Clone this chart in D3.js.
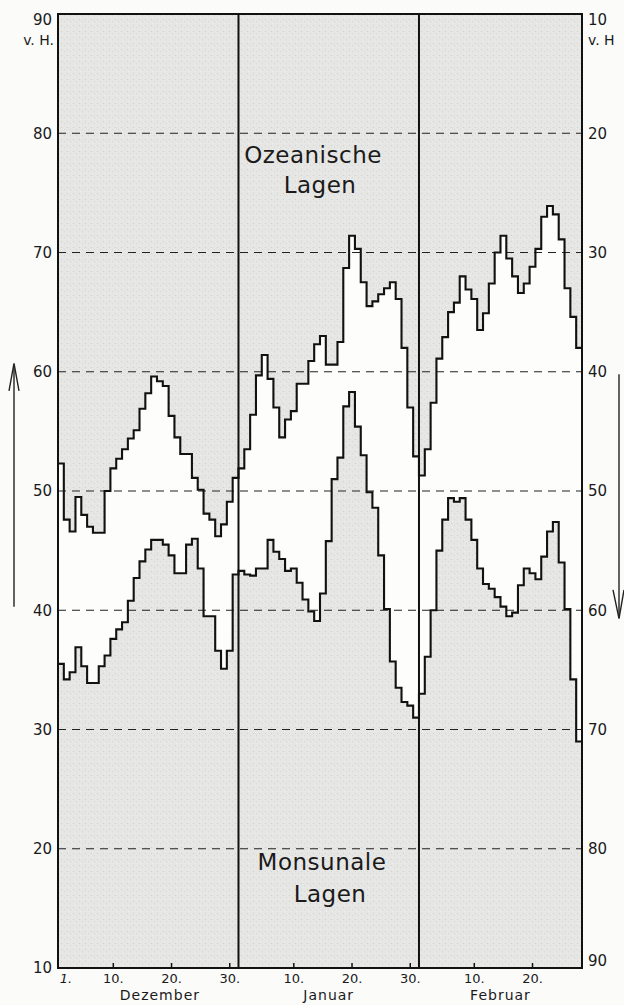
<!DOCTYPE html>
<html>
<head>
<meta charset="utf-8">
<script src="https://cdn.jsdelivr.net/npm/d3@7"></script>
<style>
  html, body { margin: 0; padding: 0; background: #fbfbfa; }
  svg { display: block; }
  text { font-family: "DejaVu Sans", "Liberation Sans", sans-serif; fill: #1a1a1a; }
</style>
</head>
<body>
<div id="chart"></div>
<script>
// ---- data (per-day values, v. H.) ----
const months = ["Dezember", "Januar", "Februar"];
const monthDays = [31, 31, 28];

// Ozeanische Lagen (upper curve, left scale)
const oceanicDec = [52.3, 47.6, 46.6, 49.5, 48.0, 47.0, 46.5, 46.5, 50.0, 51.9,
                    52.7, 53.5, 54.4, 55.1, 56.9, 58.2, 59.6, 59.2, 58.8, 56.3,
                    54.5, 53.1, 53.1, 51.1, 50.1, 48.1, 47.6, 46.2, 47.2, 49.1, 51.1];
const oceanicJan = [51.9, 53.5, 56.4, 59.7, 61.4, 59.4, 57.0, 54.5, 56.0, 56.7,
                    59.0, 59.0, 60.9, 62.3, 63.0, 60.6, 60.6, 62.5, 68.7, 71.4,
                    70.3, 67.5, 65.5, 65.9, 66.5, 67.0, 67.5, 66.1, 62.0, 57.0, 52.9];
const oceanicFeb = [51.3, 53.5, 57.4, 61.1, 62.9, 65.0, 65.8, 68.0, 66.9, 66.1,
                    63.5, 64.9, 67.4, 70.0, 71.4, 69.5, 68.0, 66.6, 67.4, 68.8,
                    70.3, 73.0, 73.9, 73.2, 71.1, 67.0, 64.6, 62.0];

// Monsunale Lagen (lower curve, left scale)
const monsoonDec = [35.5, 34.2, 34.8, 36.9, 35.3, 33.9, 33.9, 35.3, 36.2, 37.6,
                    38.4, 39.0, 40.8, 42.7, 44.1, 45.1, 45.9, 45.9, 45.5, 44.6,
                    43.1, 43.1, 45.5, 46.0, 43.5, 39.5, 39.5, 36.6, 35.1, 36.6, 43.0];
const monsoonJan = [43.3, 43.0, 42.9, 43.5, 43.5, 45.9, 44.9, 44.3, 43.3, 43.5,
                    42.3, 40.9, 39.9, 39.1, 41.4, 45.8, 51.0, 52.8, 57.1, 58.3,
                    55.4, 53.0, 49.9, 48.6, 44.6, 40.1, 35.7, 33.5, 32.3, 32.0, 31.0];
const monsoonFeb = [33.0, 36.1, 40.0, 45.0, 47.6, 49.4, 49.1, 49.4, 47.6, 45.9,
                    43.5, 42.2, 41.8, 41.1, 40.3, 39.5, 39.8, 42.1, 43.5, 43.1,
                    42.6, 44.5, 46.6, 47.4, 44.0, 40.1, 34.2, 29.0];

// tick labels
const leftTicks = [90, 80, 70, 60, 50, 40, 30, 20, 10];
const rightTicks = [10, 20, 30, 40, 50, 60, 70, 80, 90];
const gridValues = [80, 70, 60, 50, 40, 30, 20];
const dayTicks = [10, 20, 30];
const dayLabels = ["10.", "20.", "30."];
const seriesNames = ["Ozeanische", "Lagen", "Monsunale", "Lagen"];

// ---- layout ----
const W = 624, H = 1005;
const L = 58, R = 582, T = 14, B = 968;
const totalDays = d3.sum(monthDays);

const svg = d3.select("#chart").append("svg").attr("width", W).attr("height", H);

const x = d3.scaleLinear().domain([0, totalDays]).range([L, R]);
const y = d3.scaleLinear().domain([10, 90]).range([B, T]);
const yRight = d3.scaleLinear().domain([90, 10]).range([B, T]);

const oceanic = oceanicDec.concat(oceanicJan, oceanicFeb);
const monsoon = monsoonDec.concat(monsoonJan, monsoonFeb);
const rows = oceanic.map((v, i) => ({ i, up: v, lo: monsoon[i] }));
rows.push({ i: totalDays, up: oceanic[oceanic.length - 1], lo: monsoon[monsoon.length - 1] });

// stipple pattern for the shaded background
const defs = svg.append("defs");
const pat = defs.append("pattern").attr("id", "stip").attr("patternUnits", "userSpaceOnUse")
  .attr("width", 6).attr("height", 6);
pat.append("rect").attr("width", 6).attr("height", 6).attr("fill", "#e6e6e4");
pat.append("rect").attr("x", 1).attr("y", 1).attr("width", 1).attr("height", 1).attr("fill", "#d0d0cd");
pat.append("rect").attr("x", 4).attr("y", 3).attr("width", 1).attr("height", 1).attr("fill", "#d8d8d5");
pat.append("rect").attr("x", 2).attr("y", 5).attr("width", 1).attr("height", 1).attr("fill", "#efefed");

svg.append("rect").attr("x", L).attr("y", T).attr("width", R - L).attr("height", B - T)
  .attr("fill", "url(#stip)");

// white band between the two curves
const band = d3.area().curve(d3.curveStepAfter)
  .x(d => x(d.i)).y0(d => y(d.lo)).y1(d => y(d.up));
svg.append("path").datum(rows).attr("d", band).attr("fill", "#fdfdfc");

// dashed grid lines
svg.append("g").selectAll("line").data(gridValues).join("line")
  .attr("x1", L).attr("x2", R).attr("y1", d => y(d)).attr("y2", d => y(d))
  .attr("stroke", "#222").attr("stroke-width", 1.2).attr("stroke-dasharray", "8,6");

// month separators
const bounds = Array.from(d3.cumsum(monthDays)).slice(0, -1);
svg.append("g").selectAll("line").data(bounds).join("line")
  .attr("x1", d => x(d)).attr("x2", d => x(d)).attr("y1", T).attr("y2", B)
  .attr("stroke", "#111").attr("stroke-width", 2);

// curves
const stepLine = key => d3.line().curve(d3.curveStepAfter).x(d => x(d.i)).y(d => y(d[key]));
svg.append("path").datum(rows).attr("d", stepLine("up"))
  .attr("fill", "none").attr("stroke", "#111").attr("stroke-width", 2.1);
svg.append("path").datum(rows).attr("d", stepLine("lo"))
  .attr("fill", "none").attr("stroke", "#111").attr("stroke-width", 2.1);

// frame
svg.append("rect").attr("x", L).attr("y", T).attr("width", R - L).attr("height", B - T)
  .attr("fill", "none").attr("stroke", "#111").attr("stroke-width", 2);

// left axis
const leftAxis = d3.axisLeft(y).tickValues(leftTicks).tickSize(0).tickPadding(6).tickFormat(d3.format("d"));
const gL = svg.append("g").attr("transform", `translate(${L},0)`).call(leftAxis);
gL.select(".domain").remove();
gL.selectAll("text").attr("font-size", 15).style("font-family", "DejaVu Sans, sans-serif").attr("fill", "#1a1a1a");
gL.selectAll(".tick").filter(d => d === 90).select("text").attr("dy", "0.7em");
svg.append("text").attr("x", L - 4).attr("y", 45).attr("text-anchor", "end").attr("font-size", 14).text("v. H.");

// right axis (inverted)
const rightAxis = d3.axisRight(yRight).tickValues(rightTicks).tickSize(0).tickPadding(6).tickFormat(d3.format("d"));
const gR = svg.append("g").attr("transform", `translate(${R},0)`).call(rightAxis);
gR.select(".domain").remove();
gR.selectAll("text").attr("font-size", 15).style("font-family", "DejaVu Sans, sans-serif").attr("fill", "#1a1a1a");
gR.selectAll(".tick").filter(d => d === 10).select("text").attr("dy", "0.7em");
gR.selectAll(".tick").filter(d => d === 90).select("text").attr("dy", "-0.2em");
svg.append("text").attr("x", R + 6).attr("y", 45).attr("font-size", 14).text("v. H");

// bottom day ticks & labels
const starts = [0].concat(bounds);
const tickData = [];
starts.forEach((s, m) => {
  dayTicks.forEach((t, k) => { if (t <= monthDays[m]) tickData.push({ pos: s + t - 0.5, label: dayLabels[k], m }); });
});
const gB = svg.append("g");
gB.selectAll("line").data(tickData).join("line")
  .attr("x1", d => x(d.pos)).attr("x2", d => x(d.pos)).attr("y1", B).attr("y2", B - 5)
  .attr("stroke", "#111").attr("stroke-width", 1.5);
gB.selectAll("text.day").data(tickData).join("text").attr("class", "day")
  .attr("x", d => x(d.pos)).attr("y", B + 15).attr("text-anchor", "middle")
  .attr("font-size", 13).text(d => d.label);
svg.append("text").attr("x", x(0.3)).attr("y", B + 15).attr("font-size", 13).attr("font-style", "italic").text("1.");

// month names
svg.append("g").selectAll("text").data(months).join("text")
  .attr("x", (d, i) => x(starts[i] + monthDays[i] / 2 + (i === 0 ? 2 : 0)))
  .attr("y", B + 32).attr("text-anchor", "middle").attr("font-size", 14).attr("letter-spacing", 1).text(d => d);

// curve labels
const labPos = [[313, 163], [320, 193], [322, 870], [330, 902]];
svg.append("g").selectAll("text").data(seriesNames).join("text")
  .attr("x", (d, i) => labPos[i][0]).attr("y", (d, i) => labPos[i][1])
  .attr("text-anchor", "middle").attr("font-size", 23).attr("letter-spacing", 0.5).text(d => d);

// direction arrows
const arrow = svg.append("g").attr("stroke", "#222").attr("stroke-width", 1.4).attr("fill", "none");
arrow.append("line").attr("x1", 14).attr("x2", 14).attr("y1", y(40.3)).attr("y2", y(60.5));
arrow.append("path").attr("d", `M9,${y(58.4)} L14,${y(60.7)} L19,${y(58.4)}`);
arrow.append("line").attr("x1", 619).attr("x2", 619).attr("y1", yRight(40.2)).attr("y2", yRight(60.6));
arrow.append("path").attr("d", `M613,${yRight(58.3)} L619,${yRight(60.7)} L624,${yRight(58.3)}`);
</script>
</body>
</html>
